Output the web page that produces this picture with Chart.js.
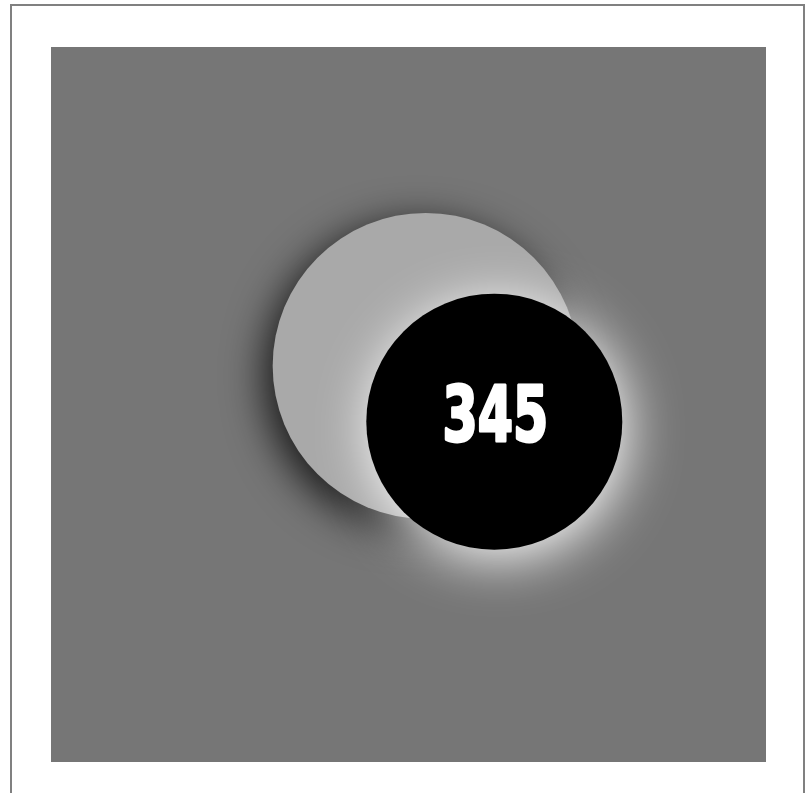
<!DOCTYPE html>
<html>
<head>
<meta charset="utf-8">
<script src="https://cdn.jsdelivr.net/npm/chart.js@4/dist/chart.umd.min.js"></script>
<style>
  html, body { margin: 0; padding: 0; background: #fff; overflow: hidden; }
  #frame { position: absolute; left: 10px; top: 4px; width: 791px; height: 900px; border: 2px solid #808080; }
  #c { position: absolute; left: 0; top: 0; }
</style>
</head>
<body>
<div id="frame"></div>
<canvas id="c" width="812" height="793"></canvas>
<script>
// ---- data ----
const seriesNames = ['outer', 'inner'];
const xValues = [52.4, 62.0];
const yValues = [55.4, 47.6];
const radii = [153, 128];
const labelText = ['', '345'];
const fillColors = ['#a9a9a9', '#000000'];

const shadowStyles = [
  { color: 'rgba(0,0,0,0.8)', blur: 40, ox: -8, oy: 10 },
  { color: 'rgba(255,255,255,1)', blur: 55, ox: 4, oy: 8 }
];

const bgPlugin = {
  id: 'bg',
  beforeDraw(chart) {
    const { ctx, chartArea: a } = chart;
    ctx.save();
    ctx.fillStyle = '#767676';
    ctx.fillRect(a.left, a.top, a.right - a.left, a.bottom - a.top);
    ctx.restore();
  }
};

const shadowPlugin = {
  id: 'shadow',
  beforeDatasetDraw(chart, args) {
    const s = shadowStyles[args.index];
    const ctx = chart.ctx;
    ctx.save();
    ctx.shadowColor = s.color;
    ctx.shadowBlur = s.blur;
    ctx.shadowOffsetX = s.ox;
    ctx.shadowOffsetY = s.oy;
  },
  afterDatasetDraw(chart) {
    chart.ctx.restore();
  }
};

const labelPlugin = {
  id: 'labels',
  afterDatasetsDraw(chart) {
    const ctx = chart.ctx;
    chart.data.datasets.forEach((ds, i) => {
      const t = labelText[i];
      if (!t) return;
      const el = chart.getDatasetMeta(i).data[0];
      const sx = 0.73;
      ctx.save();
      ctx.translate(el.x + 1, el.y + 19);
      ctx.scale(sx, 1);
      ctx.fillStyle = '#ffffff';
      ctx.strokeStyle = '#ffffff';
      ctx.lineWidth = 3;
      ctx.lineJoin = 'round';
      ctx.textAlign = 'center';
      ctx.textBaseline = 'alphabetic';
      ctx.font = "bold 77px 'DejaVu Sans Condensed', 'DejaVu Sans', sans-serif";
      ctx.fillText(t, 0, 0);
      ctx.strokeText(t, 0, 0);
      ctx.restore();
    });
  }
};

new Chart(document.getElementById('c'), {
  type: 'bubble',
  data: {
    datasets: seriesNames.map((n, i) => ({
      label: n,
      data: [{ x: xValues[i], y: yValues[i], r: radii[i] }],
      backgroundColor: fillColors[i],
      borderWidth: 0,
      hoverBorderWidth: 0,
      order: i === 1 ? 0 : 1,
      clip: false
    }))
  },
  options: {
    responsive: false,
    animation: false,
    layout: { autoPadding: false, padding: { left: 51, top: 47, right: 46, bottom: 31 } },
    scales: {
      x: { display: false, min: 0, max: 100 },
      y: { display: false, min: 0, max: 100 }
    },
    plugins: { legend: { display: false }, tooltip: { enabled: false } }
  },
  plugins: [bgPlugin, shadowPlugin, labelPlugin]
});
</script>
</body>
</html>
